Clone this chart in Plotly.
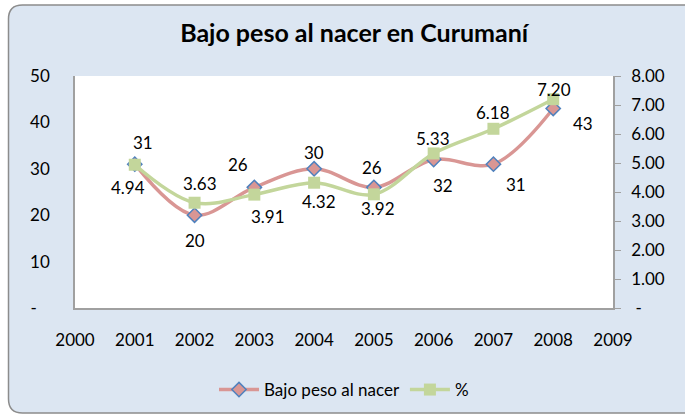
import plotly.graph_objects as go

# ---- data ----
years = [2001, 2002, 2003, 2004, 2005, 2006, 2007, 2008]
bajo_peso = [31, 20, 26, 30, 26, 32, 31, 43]
porcentaje = [4.94, 3.63, 3.91, 4.32, 3.92, 5.33, 6.18, 7.20]
x_ticks = [2000, 2001, 2002, 2003, 2004, 2005, 2006, 2007, 2008, 2009]
y1_ticks = [0, 10, 20, 30, 40, 50]
y1_labels = ["-&nbsp;&nbsp;&nbsp;", "10", "20", "30", "40", "50"]
y2_ticks = [0, 1, 2, 3, 4, 5, 6, 7, 8]
y2_labels = ["&nbsp;-", "1.00", "2.00", "3.00", "4.00", "5.00", "6.00", "7.00", "8.00"]

# label offsets (pixels) for the data labels, as in the original chart
bp_shift = [(8, -22), (0, 25), (-16, -23), (0, -16), (-2, -20), (9, 26), (23, 20), (30, 15)]
pc_shift = [(-7, 23), (5, -19), (14, 22), (5, 19), (4, 14), (-1, -15), (0, -16), (1, -10)]

W, H = 685, 415
L, R, T, B = 75, 72, 76, 107
pw, ph = W - L - R, H - T - B

FONT = "Lato"
FS = 17
RED = "#d99694"
GREEN = "#c3d69b"
BLUE = "#4f81bd"
BG = "#dce6f2"
AX = "#a0a0a0"

fig = go.Figure()
fig.add_trace(go.Scatter(
    x=years, y=bajo_peso, name="Bajo peso al nacer", mode="lines+markers",
    line=dict(color=RED, width=3.5, shape="spline", smoothing=1.0),
    marker=dict(symbol="diamond", size=11, color=RED, line=dict(color=BLUE, width=1.5)),
    yaxis="y"))
fig.add_trace(go.Scatter(
    x=years, y=porcentaje, name="%", mode="lines+markers",
    line=dict(color=GREEN, width=3.5, shape="spline", smoothing=1.0),
    marker=dict(symbol="square", size=12, color=GREEN),
    yaxis="y2"))

annots = []
for x, v, (dx, dy) in zip(years, bajo_peso, bp_shift):
    annots.append(dict(x=x, y=v, xref="x", yref="y", text=str(v), showarrow=False,
                       xshift=dx, yshift=-dy, font=dict(family=FONT, size=FS, color="#000")))
for x, v, (dx, dy) in zip(years, porcentaje, pc_shift):
    annots.append(dict(x=x, y=v, xref="x", yref="y2", text=f"{v:.2f}", showarrow=False,
                       xshift=dx, yshift=-dy, font=dict(family=FONT, size=FS, color="#000")))

# background rounded frame (pixel -> paper)
def px(xp):
    return (xp - L) / pw
def py(yp):
    return (H - B - yp) / ph

x0, x1, y0, y1, r = 8.5, 705, 5, 413, 14
path = (f"M {px(x0+r)} {py(y0)} L {px(x1-r)} {py(y0)} "
        f"Q {px(x1)} {py(y0)} {px(x1)} {py(y0+r)} L {px(x1)} {py(y1-r)} "
        f"Q {px(x1)} {py(y1)} {px(x1-r)} {py(y1)} L {px(x0+r)} {py(y1)} "
        f"Q {px(x0)} {py(y1)} {px(x0)} {py(y1-r)} L {px(x0)} {py(y0+r)} "
        f"Q {px(x0)} {py(y0)} {px(x0+r)} {py(y0)} Z")
shapes = [
    dict(type="path", path=path, xref="paper", yref="paper", layer="below",
         fillcolor=BG, line=dict(color="#8c8c8c", width=1.5)),
    dict(type="rect", x0=0, x1=1, y0=0, y1=1, xref="paper", yref="paper", layer="below",
         fillcolor="white", line=dict(width=0)),
]

fig.update_layout(
    width=W, height=H,
    margin=dict(l=L, r=R, t=T, b=B, autoexpand=False),
    paper_bgcolor="white", plot_bgcolor="rgba(0,0,0,0)",
    font=dict(family=FONT, size=FS, color="#000"),
    title=dict(text="<b>Bajo peso al nacer en Curumaní</b>", x=0.517, xanchor="center",
               y=1 - 33 / H, yanchor="middle", font=dict(family=FONT, size=25, color="#000")),
    xaxis=dict(range=[2000, 2009], tickvals=x_ticks, ticktext=[str(t) for t in x_ticks],
               showgrid=False, zeroline=False, showline=True, linecolor=AX, linewidth=1.5,
               ticks="", ticklabelstandoff=16),
    yaxis=dict(range=[0, 50], tickvals=y1_ticks, ticktext=y1_labels, showgrid=False,
               zeroline=False, showline=True, linecolor=AX, linewidth=1.5,
               ticks="", ticklabelstandoff=20),
    yaxis2=dict(range=[0, 8], tickvals=y2_ticks, ticktext=y2_labels, overlaying="y", side="right",
                showgrid=False, zeroline=False, showline=True, linecolor=AX, linewidth=1.5,
                ticks="outside", ticklen=6, tickcolor=AX, ticklabelstandoff=7),
    legend=dict(orientation="h", x=0.5, xanchor="center", yref="container",
                y=1 - 390 / H, yanchor="middle",
                bgcolor="rgba(0,0,0,0)", font=dict(family=FONT, size=FS), itemwidth=40),
    showlegend=True,
    shapes=shapes,
    annotations=annots,
)

fig.write_html("out.html", config={"displayModeBar": False},
               post_script="document.body.style.margin='0';")
